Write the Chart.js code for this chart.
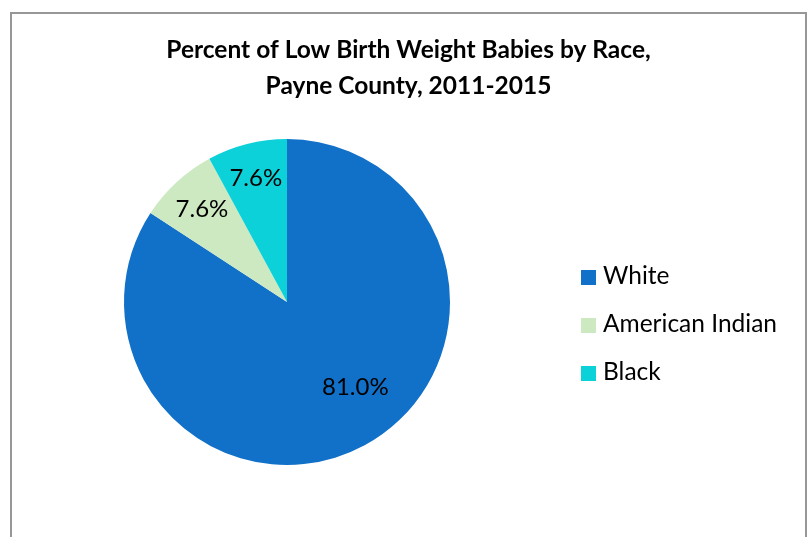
<!DOCTYPE html>
<html>
<head>
<meta charset="utf-8">
<script src="https://cdn.jsdelivr.net/npm/chart.js@4"></script>
<style>
  body { margin: 0; background: #fff; overflow: hidden; }
  #frame {
    position: absolute; left: 10px; top: 12px; width: 797px; height: 540px;
    box-sizing: border-box; border: 2px solid #979797; border-bottom: none;
  }
  #wrap { position: absolute; left: 12px; top: 14px; width: 793px; height: 523px; }
  #legend {
    position: absolute; left: 581px; top: 251px;
    font-family: Lato, sans-serif; font-size: 24.5px; color: #000;
  }
  .row { height: 48px; line-height: 48px; white-space: nowrap; }
  .box { display: inline-block; width: 15px; height: 15px; margin-right: 7px; vertical-align: -1px; }
</style>
</head>
<body>
<div id="frame"></div>
<div id="wrap"><canvas id="pie"></canvas></div>
<div id="legend"></div>
<script>
document.addEventListener("DOMContentLoaded", function() {
    // data
    const races = ["White", "American Indian", "Black"];
    const percents = [81.0, 7.6, 7.6];
    const colors = ["#1170C8", "#CDE9C1", "#0DD1D9"];
    const titleLines = ["Percent of Low Birth Weight Babies by Race,", "Payne County, 2011-2015"];

    // legend on the right
    const legend = document.getElementById("legend");
    races.forEach((name, i) => {
        const row = document.createElement("div");
        row.className = "row";
        row.innerHTML = `<span class="box" style="background:${colors[i]}"></span>${name}`;
        legend.appendChild(row);
    });

    // empty box on the right so the pie sits left while the title stays centred
    const rightSpace = {
        id: "rightSpace",
        beforeInit(chart) {
            Chart.layouts.addBox(chart, {
                position: "right",
                weight: 0,
                fullSize: false,
                options: {},
                isHorizontal() { return false; },
                update(maxWidth, maxHeight) { this.width = 243; this.height = maxHeight; },
                draw() {}
            });
        }
    };

    // percent labels inside the slices
    const sliceLabels = {
        id: "sliceLabels",
        afterDatasetsDraw(chart, args, opts) {
            const ctx = chart.ctx;
            const meta = chart.getDatasetMeta(0);
            ctx.save();
            ctx.font = "24px Lato, sans-serif";
            ctx.fillStyle = "#000";
            ctx.textAlign = "center";
            ctx.textBaseline = "middle";
            meta.data.forEach((arc, i) => {
                const p = arc.getProps(["x", "y", "startAngle", "endAngle", "outerRadius"], true);
                const mid = (p.startAngle + p.endAngle) / 2 + opts.shift[i];
                const r = p.outerRadius * opts.frac[i];
                const v = chart.data.datasets[0].data[i];
                ctx.fillText(v.toFixed(1) + "%", p.x + Math.cos(mid) * r, p.y + Math.sin(mid) * r);
            });
            ctx.restore();
        }
    };

    const ctx = document.getElementById("pie").getContext("2d");
    new Chart(ctx, {
        type: "pie",
        data: {
            labels: races,
            datasets: [{
                data: percents,
                backgroundColor: colors,
                borderWidth: 0
            }]
        },
        options: {
            responsive: true,
            maintainAspectRatio: false,
            animation: false,
            events: [],
            layout: { padding: { left: 0, right: 0, top: 0, bottom: 72 } },
            plugins: {
                legend: { display: false },
                tooltip: { enabled: false },
                title: {
                    display: true,
                    text: titleLines,
                    color: "#000",
                    font: { family: "Lato, sans-serif", size: 24.5, weight: "bold", lineHeight: 1.4694 },
                    padding: { top: 18, bottom: 35 }
                },
                sliceLabels: { frac: [0.67, 0.77, 0.78], shift: [-0.18, 0, 0] }
            }
        },
        plugins: [rightSpace, sliceLabels]
    });
});
</script>
</body>
</html>
